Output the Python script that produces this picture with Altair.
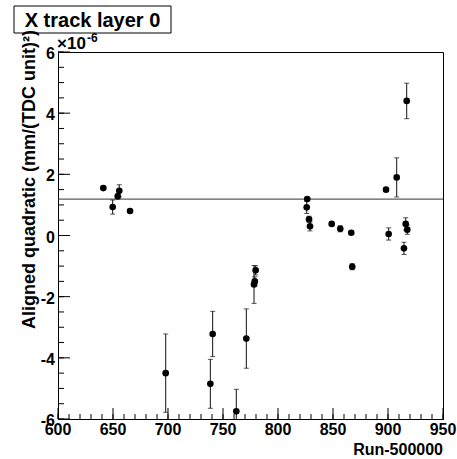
import altair as alt
import pandas as pd

# ---- data ----
runs = [641.2, 649.7, 654.3, 655.7, 665.5, 697.9, 738.5, 740.6, 762.1, 771.2,
        778.2, 778.9, 779.7, 826.1, 826.6, 828.2, 829.1, 848.8, 856.6, 866.6,
        867.5, 898.2, 900.6, 907.9, 914.5, 916.1, 917.5, 917.0]
values = [1.55, 0.93, 1.28, 1.46, 0.80, -4.50, -4.85, -3.22, -5.75, -3.37,
          -1.60, -1.50, -1.14, 0.92, 1.19, 0.53, 0.30, 0.38, 0.22, 0.09,
          -1.02, 1.50, 0.05, 1.90, -0.42, 0.38, 0.19, 4.40]
errors = [0.05, 0.23, 0.08, 0.20, 0.05, 1.28, 0.80, 0.74, 0.72, 0.97,
          0.62, 0.15, 0.15, 0.20, 0.05, 0.10, 0.15, 0.05, 0.10, 0.05,
          0.10, 0.05, 0.20, 0.64, 0.20, 0.20, 0.15, 0.58]
mean_level = [1.19]

x_major = [600, 650, 700, 750, 800, 850, 900, 950]
x_labels = ["600", "650", "700", "750", "800", "850", "900", "950"]
x_minor = [600 + 10 * i for i in range(36)]
y_major = [-6, -4, -2, 0, 2, 4, 6]
y_labels = ["-6", "-4", "-2", "0", "2", "4", "6"]
y_minor = [-6 + 0.5 * i for i in range(25)]

W, H = 385, 367
FONT = "Liberation Sans"

df = pd.DataFrame({"run": runs, "val": values, "err": errors})
df["lo"] = df["val"] - df["err"]
df["hi"] = df["val"] + df["err"]

xs = alt.Scale(domain=[600, 950], nice=False, zero=False)
ys = alt.Scale(domain=[-6, 6], nice=False, zero=False)

xaxis = alt.Axis(values=x_major, title=None, grid=False, ticks=False, labels=False,
                 domainColor="black", domainWidth=1)
yaxis = alt.Axis(values=y_major, title=None, grid=False, ticks=False, labels=False,
                 domainColor="black", domainWidth=1)


def X(field):
    return alt.X(field, scale=xs, axis=xaxis, title=None)


def Y(field):
    return alt.Y(field, scale=ys, axis=yaxis, title=None)


base = alt.Chart(df)

err_rule = base.mark_rule(color="#111", strokeWidth=1, clip=True).encode(
    x=X("run:Q"), y=Y("lo:Q"), y2="hi:Q")
cap_lo = base.mark_tick(color="#111", orient="horizontal", size=5, thickness=1, clip=True).encode(
    x=X("run:Q"), y=Y("lo:Q"))
cap_hi = base.mark_tick(color="#111", orient="horizontal", size=5, thickness=1, clip=True).encode(
    x=X("run:Q"), y=Y("hi:Q"))
points = base.mark_point(filled=True, shape="circle", size=44, color="black", opacity=1, clip=True).encode(
    x=X("run:Q"), y=Y("val:Q"))

hline = alt.Chart(pd.DataFrame({"m": mean_level})).mark_rule(color="#333", strokeWidth=1).encode(
    y=Y("m:Q"))

# inward ticks
ymaj = alt.Chart(pd.DataFrame({"v": y_major})).mark_rule(color="black", strokeWidth=1).encode(
    y=Y("v:Q"), x=alt.value(0), x2=alt.value(12))
ymin = alt.Chart(pd.DataFrame({"v": y_minor})).mark_rule(color="black", strokeWidth=1).encode(
    y=Y("v:Q"), x=alt.value(0), x2=alt.value(6))
xmaj = alt.Chart(pd.DataFrame({"v": x_major})).mark_rule(color="black", strokeWidth=1).encode(
    x=X("v:Q"), y=alt.value(H), y2=alt.value(H - 11))
xmin = alt.Chart(pd.DataFrame({"v": x_minor})).mark_rule(color="black", strokeWidth=1).encode(
    x=X("v:Q"), y=alt.value(H), y2=alt.value(H - 5))

# tick labels (bold, through the scales)
xlab = alt.Chart(pd.DataFrame({"v": x_major, "t": x_labels})).mark_text(
    font=FONT, fontWeight="bold", fontSize=16, align="center", baseline="alphabetic", color="black").encode(
    x=X("v:Q"), y=alt.value(H + 16), text="t:N")
ylab = alt.Chart(pd.DataFrame({"v": y_major, "t": y_labels})).mark_text(
    font=FONT, fontWeight="bold", fontSize=16, align="right", baseline="alphabetic", dy=7,
    color="black").encode(
    y=Y("v:Q"), x=alt.value(-3), text="t:N")

# titles / annotations
title_box = alt.Chart(pd.DataFrame({"t": ["X track layer 0"]})).mark_rect(
    fill="white", stroke="black", strokeWidth=1).encode(
    x=alt.value(-44), x2=alt.value(113), y=alt.value(-46), y2=alt.value(-19))
title_txt = alt.Chart(pd.DataFrame({"t": ["X track layer 0"]})).mark_text(
    font=FONT, fontWeight="bold", fontSize=20, align="center", baseline="alphabetic", color="black").encode(
    text="t:N", x=alt.value(34.5), y=alt.value(-25))

ytitle = alt.Chart(pd.DataFrame({"t": ["Aligned quadratic (mm/(TDC unit)\u00b2)"]})).mark_text(
    font=FONT, fontWeight="bold", fontSize=18, align="right", baseline="alphabetic",
    angle=270, color="black").encode(text="t:N", x=alt.value(-23), y=alt.value(-22))

xtitle = alt.Chart(pd.DataFrame({"t": ["Run-500000"]})).mark_text(
    font=FONT, fontWeight="bold", fontSize=16, align="right", baseline="alphabetic", color="black").encode(
    text="t:N", x=alt.value(W), y=alt.value(H + 36))

exp_main = alt.Chart(pd.DataFrame({"t": ["\u00d710"]})).mark_text(
    font=FONT, fontWeight="bold", fontSize=17, align="left", baseline="alphabetic", color="black").encode(
    text="t:N", x=alt.value(-1), y=alt.value(-3))
exp_sup = alt.Chart(pd.DataFrame({"t": ["-6"]})).mark_text(
    font=FONT, fontWeight="bold", fontSize=12, align="left", baseline="alphabetic", color="black").encode(
    text="t:N", x=alt.value(29), y=alt.value(-10))

chart = alt.layer(
    hline, err_rule, cap_lo, cap_hi, points,
    ymaj, ymin, xmaj, xmin, xlab, ylab,
    title_box, title_txt, ytitle, xtitle, exp_main, exp_sup,
).properties(
    width=W, height=H,
    autosize=alt.AutoSizeParams(type="none"),
    padding={"left": 58, "top": 52, "right": 14, "bottom": 40},
    background="white",
).configure_view(stroke="black", strokeWidth=1)

chart.save("out.html", embed_options={"renderer": "svg", "actions": False})
